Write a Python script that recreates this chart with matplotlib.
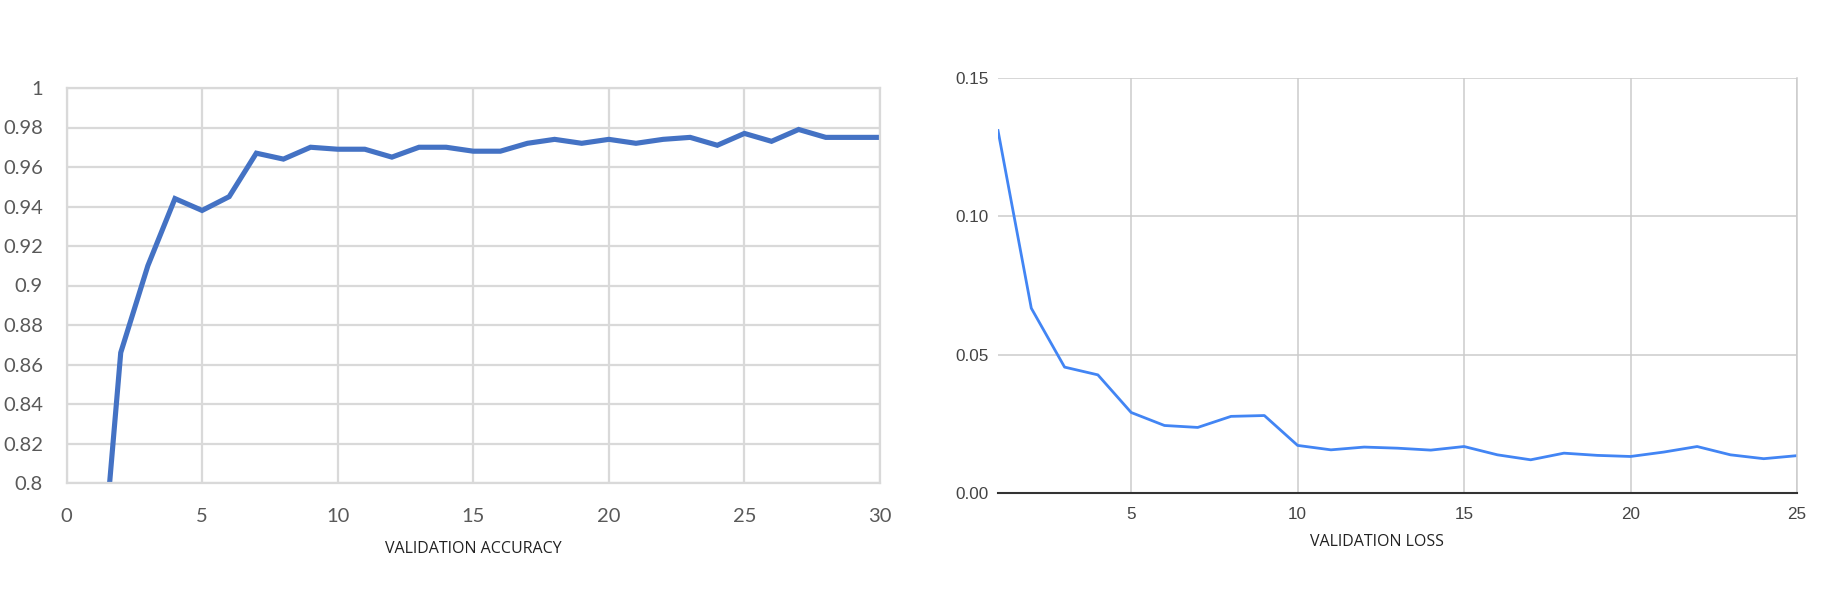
import matplotlib
matplotlib.use("Agg")
import matplotlib.pyplot as plt

# validation accuracy per epoch
acc_epochs = list(range(1, 31))
acc_values = [0.705, 0.866, 0.910, 0.944, 0.938, 0.945, 0.967, 0.964, 0.970, 0.969,
              0.969, 0.965, 0.970, 0.970, 0.968, 0.968, 0.972, 0.974, 0.972, 0.974,
              0.972, 0.974, 0.975, 0.971, 0.977, 0.973, 0.979, 0.975, 0.975, 0.975]
acc_xticks = [0, 5, 10, 15, 20, 25, 30]
acc_yticks = [0.8, 0.82, 0.84, 0.86, 0.88, 0.9, 0.92, 0.94, 0.96, 0.98, 1]
acc_ylabels = ["0.8", "0.82", "0.84", "0.86", "0.88", "0.9", "0.92", "0.94", "0.96", "0.98", "1"]

# validation loss per epoch
loss_epochs = list(range(1, 26))
loss_values = [0.1310, 0.0668, 0.0455, 0.0427, 0.0291, 0.0244, 0.0237, 0.0277, 0.0280, 0.0172,
               0.0156, 0.0166, 0.0162, 0.0155, 0.0168, 0.0138, 0.0120, 0.0144, 0.0136, 0.0132,
               0.0148, 0.0168, 0.0138, 0.0124, 0.0135]
loss_xticks = [5, 10, 15, 20, 25]
loss_yticks = [0.0, 0.05, 0.10, 0.15]
loss_ylabels = ["0.00", "0.05", "0.10", "0.15"]

W, H = 1830, 595
fig = plt.figure(figsize=(W / 100, H / 100), dpi=100)
fig.patch.set_facecolor("white")

# ---- left: Excel style accuracy chart ----
ax1 = fig.add_axes([66.5 / W, 1 - 483 / H, (880 - 66.5) / W, (483 - 88) / H])
ax1.plot(acc_epochs, acc_values, color="#4472C4", lw=3.7, solid_joinstyle="miter", clip_on=True)
ax1.set_xlim(0, 30)
ax1.set_ylim(0.8, 1.0)
ax1.set_xticks(acc_xticks)
ax1.set_yticks(acc_yticks)
ax1.set_yticklabels(acc_ylabels)
ax1.grid(True, color="#d9d9d9", lw=1.6)
ax1.set_axisbelow(True)
for s in ax1.spines.values():
    s.set_color("#d9d9d9")
    s.set_linewidth(1.6)
ax1.tick_params(length=0, colors="#595959", labelsize=14.5)
ax1.tick_params(axis="x", pad=18)
ax1.tick_params(axis="y", pad=17)
for lab in ax1.get_xticklabels() + ax1.get_yticklabels():
    lab.set_fontfamily("Lato")
fig.text(473 / W, 1 - 549 / H, "VALIDATION ACCURACY", ha="center", va="center",
         fontsize=11.5, family="Open Sans", color="#222222")

# ---- right: Google Sheets style loss chart ----
ax2 = fig.add_axes([998 / W, 1 - 493 / H, (1797 - 998) / W, (493 - 78) / H])
ax2.plot(loss_epochs, loss_values, color="#4285F4", lw=2)
ax2.set_xlim(1, 25)
ax2.set_ylim(0, 0.15)
ax2.set_xticks(loss_xticks)
ax2.set_yticks(loss_yticks)
ax2.set_yticklabels(loss_ylabels)
ax2.grid(True, color="#cccccc", lw=1.1)
ax2.set_axisbelow(True)
ax2.spines["left"].set_visible(False)
ax2.spines["top"].set_visible(False)
ax2.spines["right"].set_color("#cccccc")
ax2.spines["right"].set_linewidth(1.1)
ax2.spines["bottom"].set_color("#333333")
ax2.spines["bottom"].set_linewidth(1.5)
ax2.tick_params(length=0, colors="#444444", labelsize=12.3)
ax2.tick_params(axis="x", pad=10)
ax2.tick_params(axis="y", pad=6.5)
for lab in ax2.get_xticklabels() + ax2.get_yticklabels():
    lab.set_fontfamily("Liberation Sans")
fig.text(1377 / W, 1 - 542 / H, "VALIDATION LOSS", ha="center", va="center",
         fontsize=11.5, family="Open Sans", color="#222222")

fig.savefig("out.png", dpi=100, facecolor="white")
